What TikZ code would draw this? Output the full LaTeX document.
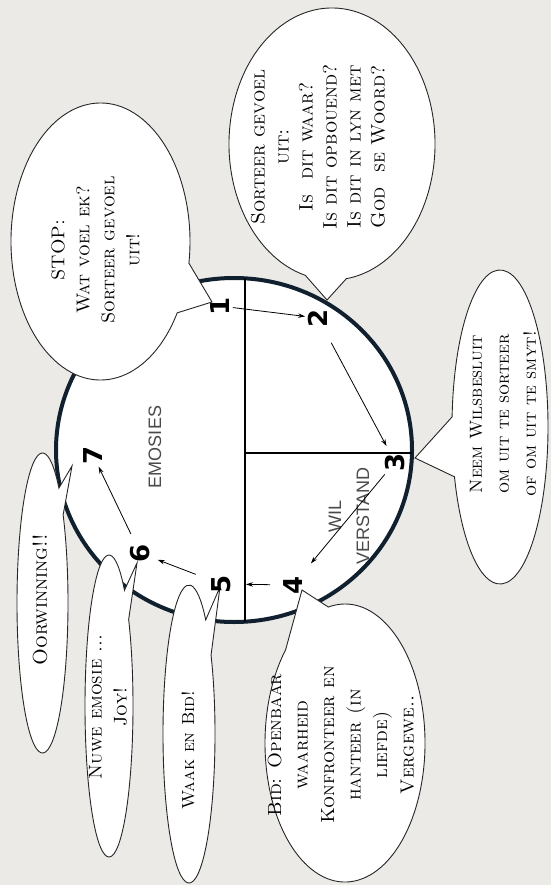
\documentclass[tikz,border=0pt]{standalone}
\usepackage{fontspec}
\newfontfamily\labelsans{Liberation Sans}
\newfontfamily\numfont{DejaVu Sans}
\usetikzlibrary{arrows.meta}
\definecolor{bg}{HTML}{EBEAE7}
\definecolor{ring}{HTML}{10202E}
\definecolor{txtgray}{HTML}{4A4A4A}
% cx cy rx ry t1 t2 tipx tipy
\newcommand\speechbubble[8]{%
  \filldraw[bubble] ({#1+#3*cos(#5)},{#2+#4*sin(#5)}) -- (#7,#8) --
    ({#1+#3*cos(#6)},{#2+#4*sin(#6)})
    arc[start angle=#6, end angle=#5+360, x radius=#3, y radius=#4] -- cycle;}
\begin{document}
\begin{tikzpicture}[x=1pt,y=-1pt,
  bubble/.style={draw=black!85, line width=0.9pt, fill=white},
  bubtext/.style={rotate=90, align=center, inner sep=0pt,
    font=\fontsize{18.5}{25}\selectfont\scshape},
  num/.style={rotate=90, inner sep=0pt,
    font=\numfont\bfseries\fontsize{26}{26}\selectfont},
  arr/.style={-{Stealth[length=7pt,width=4.5pt]}, line width=0.8pt},
  lbl/.style={rotate=90, align=center, inner sep=0pt, text=txtgray,
    font=\labelsans\fontsize{18}{28}\selectfont}]
\useasboundingbox (0,0) rectangle (551,885);
\fill[bg] (0,0) rectangle (551,885);

% ring and dividing lines
\filldraw[fill=white, draw=ring, line width=4pt] (234,450) ellipse [x radius=178, y radius=172];
\coordinate (vt) at (245,278);
\coordinate (vb) at (245,622);
\coordinate (hm) at (245,453);
\coordinate (hr) at (412,453);
\draw[line width=1.2pt] (vt) -- (vb);
\draw[line width=1.2pt] (hm) -- (hr);

% speech bubbles
\speechbubble{100.5}{241.5}{89.5}{138.5}{9}{31}{212}{302}
\speechbubble{332}{144}{103}{136}{82}{105}{327}{300}
\speechbubble{500}{427}{48}{157}{161.5}{183.7}{415}{458}
\speechbubble{345}{743}{80}{139}{222}{258}{302}{590}
\speechbubble{189}{734}{26}{149}{-50}{-32}{220}{587}
\speechbubble{109}{706}{24}{151}{-50}{-35}{137}{563}
\speechbubble{42.5}{603}{25.5}{150}{-50}{-36}{72}{466}

% bubble texts
\node[bubtext] (t1) at (95.5,250) {STOP:\\Wat voel ek?\\Sorteer gevoel\\uit!};
\node[bubtext, font=\fontsize{19.5}{24}\selectfont\scshape] (t2) at (318,147) {Sorteer gevoel\\uit:\\Is~~dit waar?\\Is dit opbouend?\\Is dit in lyn met\\God~~se Woord?};
\node[bubtext, font=\fontsize{17.5}{27}\selectfont\scshape] (t3) at (503,414) {Neem Wilsbesluit\\om uit te sorteer\\of om uit te smyt!};
\node[bubtext, font=\fontsize{19}{26.5}\selectfont\scshape] (t4) at (341,745) {Bid: Openbaar\\waarheid\\Konfronteer en\\hanteer (in\\liefde)\\Vergewe..};
\node[bubtext, font=\fontsize{17.5}{25}\selectfont\scshape] (t5) at (188,750) {Waak en Bid!};
\node[bubtext] (t6) at (108,707) {Nuwe emosie ...\\Joy!};
\node[bubtext, font=\fontsize{20}{25}\selectfont\scshape] (t7) at (40,600) {Oorwinning!!};

% area labels
\node[lbl] (emo) at (155,447) {EMOSIES};
\node[lbl] (wil) at (349,516) {WIL\\VERSTAND};

% step numbers
\node[num] (n1) at (220,306) {1};
\node[num] (n2) at (318,318) {2};
\node[num] (n3) at (395,462) {3};
\node[num] (n4) at (293,585) {4};
\node[num] (n5) at (221,584) {5};
\node[num] (n6) at (140,553) {6};
\node[num] (n7) at (93,455) {7};

% arrows
\draw[arr, shorten <=13pt, shorten >=13pt] (n1.center) -- (n2.center);
\draw[arr, shorten <=28pt, shorten >=18pt] (n2.center) -- (n3.center);
\draw[arr, shorten <=16pt, shorten >=28pt] (n3.center) -- (n4.center);
\draw[arr, shorten <=23pt, shorten >=25pt] (n4.center) -- (n5.center);
\draw[arr, shorten <=27pt, shorten >=19pt] (n5.center) -- (n6.center);
\draw[arr, shorten <=21pt, shorten >=13pt] (n6.center) -- (n7.center);
\end{tikzpicture}
\end{document}
